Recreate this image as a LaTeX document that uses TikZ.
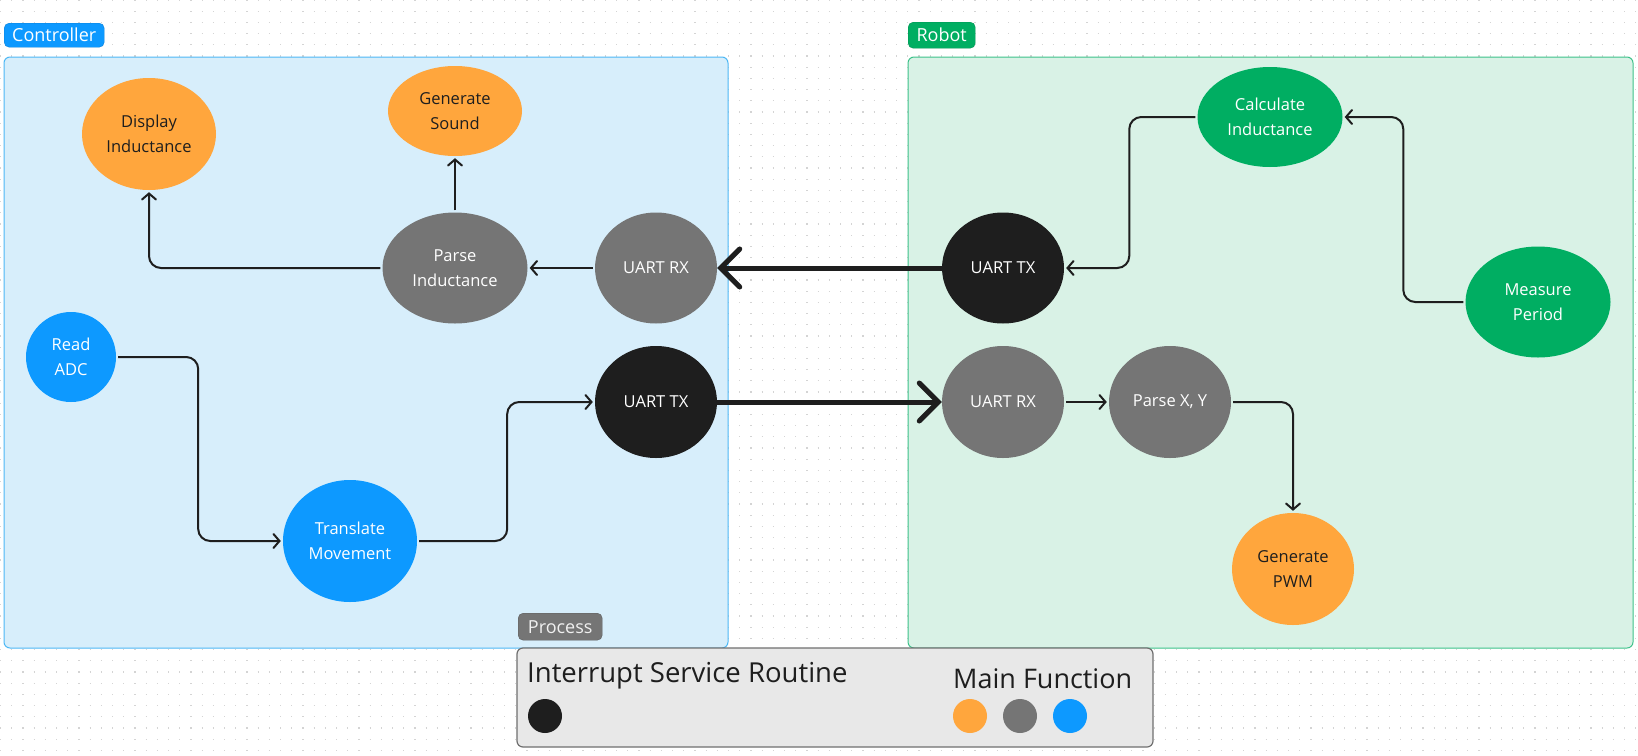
\documentclass[tikz,border=0pt]{standalone}
\usepackage{fontspec}
\setmainfont{Open Sans}
\usetikzlibrary{arrows.meta,positioning,shapes.geometric}

\definecolor{gridgray}{HTML}{D4D4D4}
\definecolor{ctrlblue}{HTML}{0D99FF}
\definecolor{ctrlfill}{HTML}{D7EEFB}
\definecolor{ctrlline}{HTML}{4DB8F5}
\definecolor{robotgreen}{HTML}{00AE62}
\definecolor{robotfill}{HTML}{D9F2E6}
\definecolor{robotline}{HTML}{3DC28A}
\definecolor{fnorange}{HTML}{FFA63D}
\definecolor{fngray}{HTML}{757575}
\definecolor{fnblack}{HTML}{1E1E1E}
\definecolor{legendfill}{HTML}{E8E8E8}

\begin{document}
\begin{tikzpicture}[
    x=1pt, y=-1pt,
    every node/.style={font=\fontsize{16.5}{25}\selectfont, align=center},
    fn/.style={ellipse, inner sep=0pt, text=white},
    mainorange/.style={fn, fill=fnorange, text=fnblack},
    maingray/.style={fn, fill=fngray},
    mainblue/.style={fn, fill=ctrlblue},
    maingreen/.style={fn, fill=robotgreen},
    isrblack/.style={fn, fill=fnblack},
    tag/.style={rounded corners=5pt, inner sep=0pt, text=white, anchor=north west,
        font=\fontsize{18}{20}\selectfont},
    link/.style={draw=fnblack, line width=2pt, rounded corners=12pt,
        shorten <=2pt, shorten >=2pt,
        -{Straight Barb[length=6pt,width=14pt,line cap=round]}},
    bigarrow/.style={draw=fnblack, line width=5pt, line cap=round,
        -{Straight Barb[length=19pt,width=38pt,line cap=round]}},
    legenddot/.style={circle, minimum size=34pt, inner sep=0pt},
]
\useasboundingbox (0,0) rectangle (1638,755);
\fill[white] (0,0) rectangle (1638,755);
\foreach \r in {0,...,67}
    \draw[gridgray, line width=1.2pt, dash pattern=on 1.2pt off 10pt] (0,\r*11.2) -- (1638,\r*11.2);

\draw[ctrlline, fill=ctrlfill, line width=1pt, rounded corners=6pt] (4,57) rectangle (728,648);
\draw[robotline, fill=robotfill, line width=1pt, rounded corners=6pt] (908,57) rectangle (1633,648);
\node[tag, fill=ctrlblue, draw=ctrlblue!85!black, minimum width=100pt, minimum height=24pt] (ctrltag) at (4,23) {Controller};
\node[tag, fill=robotgreen, draw=robotgreen!85!black, minimum width=67pt, minimum height=26pt] (robottag) at (908,22) {Robot};
\node[tag, fill=fngray, draw=fngray!80!black, text=white!94!black, minimum width=84pt, minimum height=27pt] (proctag) at (518,613) {Process};

\node[mainorange, minimum width=134pt, minimum height=112pt] (dispind) at (149,134) {Display\\Inductance};
\node[mainorange, minimum width=134pt, minimum height=90pt] (gensound) at (455,111) {Generate\\Sound};
\node[maingray, minimum width=145pt, minimum height=111pt] (parseind) at (455,268) {Parse\\Inductance};
\node[maingray, minimum width=122pt, minimum height=111pt] (ctrlrx) at (656,268) {UART RX};
\node[mainblue, minimum width=90pt, minimum height=90pt] (readadc) at (71,357) {Read\\ADC};
\node[mainblue, minimum width=134pt, minimum height=122pt] (transmov) at (350,541) {Translate\\Movement};
\node[isrblack, minimum width=122pt, minimum height=112pt] (ctrltx) at (656,402) {UART TX};

\node[maingreen, minimum width=145pt, minimum height=100pt] (calcind) at (1270,117) {Calculate\\Inductance};
\node[isrblack, minimum width=122pt, minimum height=111pt] (robottx) at (1003,268) {UART TX};
\node[maingreen, minimum width=145pt, minimum height=111pt] (measper) at (1538,302) {Measure\\Period};
\node[maingray, minimum width=122pt, minimum height=112pt] (robotrx) at (1003,402) {UART RX};
\node[maingray, minimum width=122pt, minimum height=112pt] (parsexy) at (1170,402) {Parse X, Y};
\node[mainorange, minimum width=122pt, minimum height=112pt] (genpwm) at (1293,569) {Generate\\PWM};

\draw[link] (ctrlrx) -- (parseind);
\draw[link] (parseind.west) -| (dispind.south);
\draw[link] (parseind) -- (gensound);
\draw[link] (readadc.east) -- ++(82,0) |- (transmov.west);
\draw[link] (transmov.east) -- ++(90,0) |- (ctrltx.west);
\draw[bigarrow] (ctrltx.east) -- (robotrx.west);
\draw[bigarrow] (robottx.west) -- (ctrlrx.east);
\draw[link] (calcind.west) -- ++(-68,0) |- (robottx.east);
\draw[link] (measper.west) -- ++(-62,0) |- (calcind.east);
\draw[link] (robotrx) -- (parsexy);
\draw[link] (parsexy.east) -| (genpwm.north);

\draw[fngray!95!black, fill=legendfill, line width=1.2pt, rounded corners=6pt] (517,648) rectangle (1153,747);
\node[anchor=base west, font=\fontsize{27.5}{30}\selectfont, text=fnblack, inner sep=0pt] (isrtext) at (527,682) {Interrupt Service Routine};
\node[anchor=base west, font=\fontsize{27}{30}\selectfont, text=fnblack, inner sep=0pt] (maintext) at (953,688) {Main Function};
\node[legenddot, fill=fnblack] (isrdot) at (545,716) {};
\node[legenddot, fill=fnorange] (orangedot) at (970,716) {};
\node[legenddot, fill=fngray] (graydot) at (1020,716) {};
\node[legenddot, fill=ctrlblue] (bluedot) at (1070,716) {};
\end{tikzpicture}
\end{document}
